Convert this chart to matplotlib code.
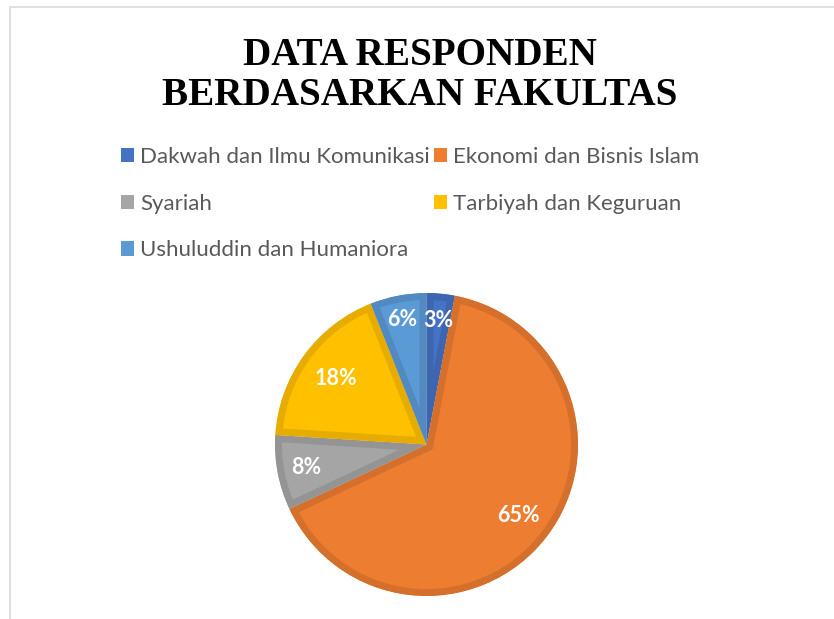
import matplotlib.pyplot as plt
from matplotlib.patches import Rectangle, Patch
import numpy as np

categories = ["Dakwah dan Ilmu Komunikasi", "Ekonomi dan Bisnis Islam", "Syariah",
              "Tarbiyah dan Keguruan", "Ushuluddin dan Humaniora"]
values = [3, 65, 8, 18, 6]
fills = ["#4472C4", "#ED7D31", "#A5A5A5", "#FFC000", "#5B9BD5"]
edges = ["#3E65B0", "#D5702C", "#949494", "#E6AD00", "#5189C0"]
label_r = [0.82, 0.77, 0.81, 0.74, 0.84]

W, H = 834, 619
fig = plt.figure(figsize=(W / 100, H / 100), dpi=100)

# chart border (top/left visible, rest runs off the image)
fig.patches.append(Rectangle((10 / W, -0.1), 1.2, 1 - 7 / H + 0.1, transform=fig.transFigure,
                             fill=False, edgecolor="#D9D9D9", linewidth=1.2))

fig.text(0.503, 1 - 105 / H, "DATA RESPONDEN\nBERDASARKAN FAKULTAS", ha="center", va="baseline",
         fontsize=28.2, fontweight="bold", family="Liberation Serif", linespacing=1.12)

cx, cy, r = 426.5, 444.5, 151.5
ax = fig.add_axes([(cx - r) / W, (H - cy - r) / H, 2 * r / W, 2 * r / H])
wedges, _ = ax.pie(values, colors=fills, startangle=90, counterclock=False,
                   wedgeprops=dict(linewidth=0))
ax.set_xlim(-1, 1)
ax.set_ylim(-1, 1)
ax.set_aspect("auto")
ax.axis("off")

# darker border drawn on the inside of each slice
for w, ec in zip(wedges, edges):
    w.set_edgecolor(ec)
    w.set_linewidth(10)
    w.set_clip_on(True)
    w.set_clip_path(w.get_path(), w.get_transform())

total = sum(values)
for w, v, rr in zip(wedges, values, label_r):
    mid = np.deg2rad((w.theta1 + w.theta2) / 2)
    ax.text(rr * np.cos(mid), rr * np.sin(mid), f"{round(100 * v / total)}%",
            ha="center", va="center", color="white", fontsize=15.5, fontweight="bold", family="Lato")

order = [0, 2, 4, 1, 3]
handles = [Patch(facecolor=fills[i], edgecolor="none") for i in order]
fig.legend(handles, [categories[i] for i in order], ncol=2, loc="upper left",
           bbox_to_anchor=(121 / W, 1 - 147 / H), frameon=False, borderpad=0, borderaxespad=0,
           prop=dict(family="Lato", size=16), labelcolor="#595959",
           handlelength=0.6, handleheight=0.6, handletextpad=0.25,
           columnspacing=0.2, labelspacing=1.2)

fig.savefig("out.png", dpi=100)
